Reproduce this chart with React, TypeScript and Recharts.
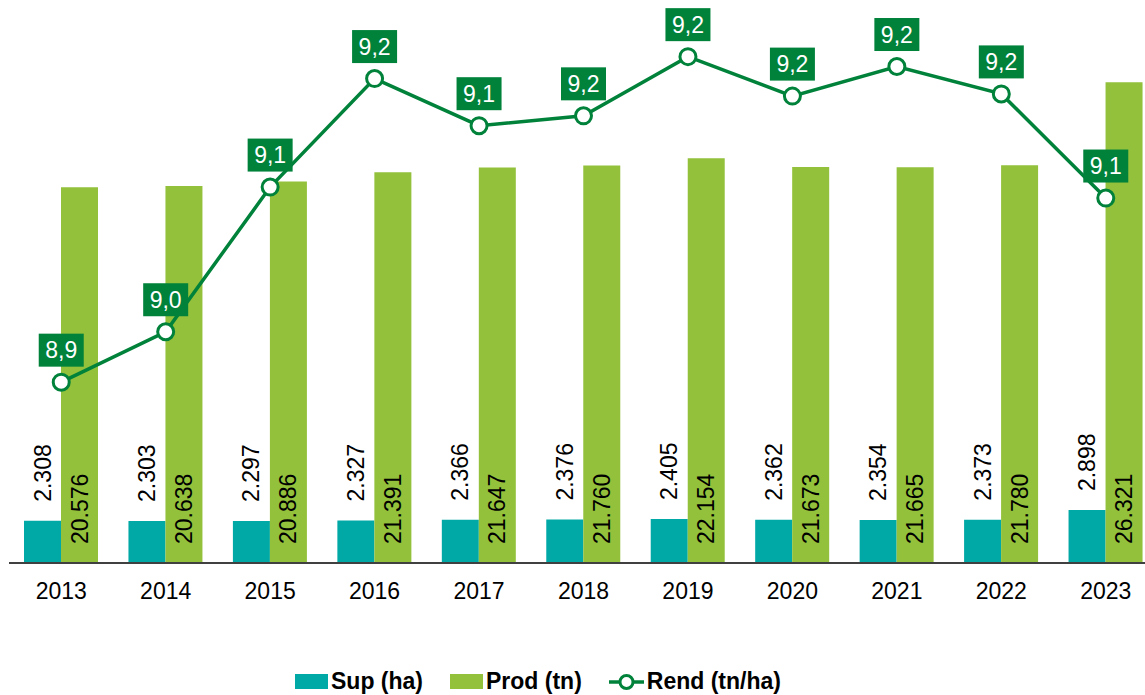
import React from 'react'
import { ComposedChart, Bar, Line, XAxis, YAxis, LabelList } from 'recharts'

const years = ['2013', '2014', '2015', '2016', '2017', '2018', '2019', '2020', '2021', '2022', '2023']
const supHa = [2308, 2303, 2297, 2327, 2366, 2376, 2405, 2362, 2354, 2373, 2898]
const prodTn = [20576, 20638, 20886, 21391, 21647, 21760, 22154, 21673, 21665, 21780, 26321]
const rendTnHa = [8.915, 8.961, 9.093, 9.192, 9.149, 9.158, 9.212, 9.176, 9.203, 9.178, 9.083]

const TEAL = '#00A9A6'
const LIME = '#93C13B'
const DARK = '#00823B'
const FONT = '"Liberation Sans", Arial, sans-serif'

const data = years.map((y, i) => ({ year: y, sup: supHa[i], prod: prodTn[i], rend: rendTnHa[i] }))

const fmtThousands = (v: number) => String(v).replace(/\B(?=(\d{3})+(?!\d))/g, '.')

// sup value sits above the teal bar, rotated
const SupLabel = (props: any) => {
  const { x, y, width, value } = props
  const cx = x + width / 2
  const cy = y - 19
  return (
    <text transform={`translate(${cx},${cy}) rotate(-90)`} textAnchor="start" dominantBaseline="central"
      fontSize={23} fontFamily={FONT} fill="#000">
      {fmtThousands(value)}
    </text>
  )
}

// prod value sits inside the bottom of the green bar
const ProdLabel = (props: any) => {
  const { x, y, width, height, value } = props
  const cx = x + width / 2
  const cy = y + height - 19
  return (
    <text transform={`translate(${cx},${cy}) rotate(-90)`} textAnchor="start" dominantBaseline="central"
      fontSize={23} fontFamily={FONT} fill="#000">
      {fmtThousands(value)}
    </text>
  )
}

const RendLabel = (props: any) => {
  const { x, y, value } = props
  const w = 45
  const h = 33
  const cy = y - 32
  return (
    <g>
      <rect x={x - w / 2} y={cy - h / 2} width={w} height={h} fill={DARK} />
      <text x={x} y={cy} textAnchor="middle" dominantBaseline="central" fontSize={23} fontFamily={FONT} fill="#fff">
        {value.toFixed(1).replace('.', ',')}
      </text>
    </g>
  )
}

const legendItems = [
  { label: 'Sup (ha)', kind: 'box', color: TEAL },
  { label: 'Prod (tn)', kind: 'box', color: LIME },
  { label: 'Rend (tn/ha)', kind: 'line', color: DARK },
]

export default function App() {
  return (
    <div style={{ position: 'fixed', left: 0, top: 0, width: 1145, height: 695, overflow: 'hidden', background: '#fff' }}>
      <ComposedChart width={1158} height={695} data={data} barGap={0}
        margin={{ top: 15, right: 0, left: 9, bottom: 82 }}>
        <XAxis dataKey="year" axisLine={{ stroke: '#404040', strokeWidth: 2 }} tickLine={false} tickMargin={14}
          height={50} tick={{ fontSize: 23, fontFamily: FONT, fill: '#000' }} interval={0} />
        <YAxis yAxisId="left" hide domain={[0, 30000]} />
        <YAxis yAxisId="right" hide orientation="right" domain={[8.75, 9.25]} />
        <Bar yAxisId="left" dataKey="sup" fill={TEAL} barSize={37} isAnimationActive={false}>
          <LabelList dataKey="sup" content={SupLabel} />
        </Bar>
        <Bar yAxisId="left" dataKey="prod" fill={LIME} barSize={37} isAnimationActive={false}>
          <LabelList dataKey="prod" content={ProdLabel} />
        </Bar>
        <Line yAxisId="right" dataKey="rend" stroke={DARK} strokeWidth={3.5} type="linear"
          dot={{ r: 8, fill: '#fff', stroke: DARK, strokeWidth: 3 }} activeDot={false} isAnimationActive={false}>
          <LabelList dataKey="rend" content={RendLabel} />
        </Line>
      </ComposedChart>

      {/* legend */}
      <div style={{ position: 'absolute', left: 295, top: 668, display: 'flex', alignItems: 'center', gap: 27,
        fontFamily: FONT, fontWeight: 'bold', fontSize: 23, color: '#000' }}>
        {legendItems.map((it) => (
          <div key={it.label} style={{ display: 'flex', alignItems: 'center', gap: 3 }}>
            {it.kind === 'box' ? (
              <span style={{ display: 'inline-block', width: 33, height: 15, background: it.color }} />
            ) : (
              <svg width={35} height={20}>
                <line x1={0} y1={10} x2={35} y2={10} stroke={it.color} strokeWidth={3.5} />
                <circle cx={17.5} cy={10} r={6.5} fill="#fff" stroke={it.color} strokeWidth={3} />
              </svg>
            )}
            <span>{it.label}</span>
          </div>
        ))}
      </div>
    </div>
  )
}
